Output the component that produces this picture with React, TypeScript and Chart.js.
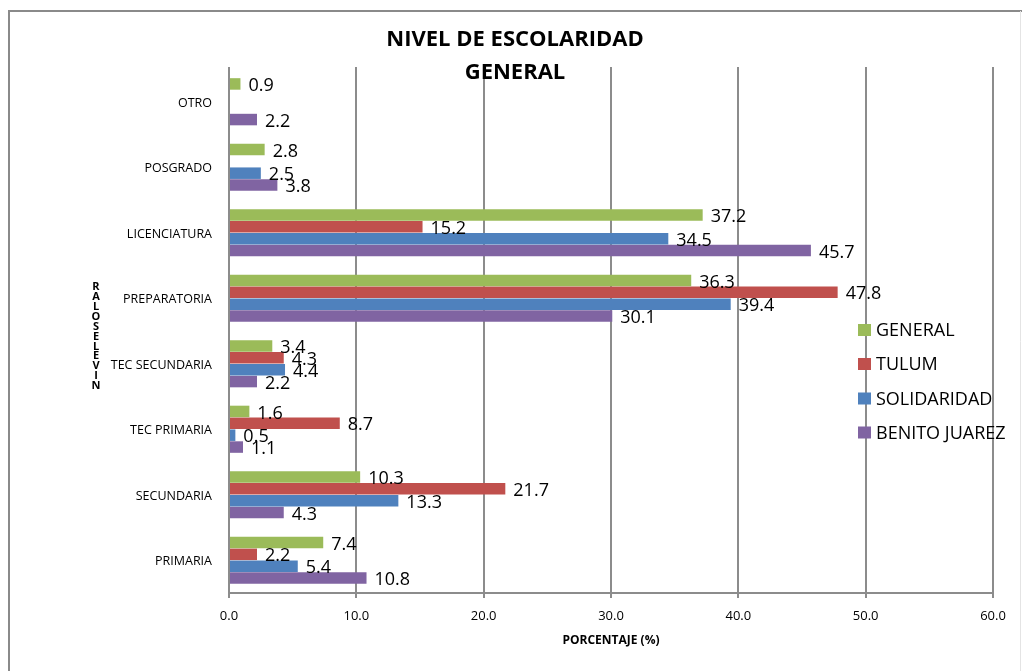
import React, { useEffect, useRef } from "react";
import { Chart, registerables } from "chart.js";

Chart.register(...registerables);

const categories = [
  "OTRO",
  "POSGRADO",
  "LICENCIATURA",
  "PREPARATORIA",
  "TEC SECUNDARIA",
  "TEC PRIMARIA",
  "SECUNDARIA",
  "PRIMARIA",
];

const seriesNames = ["GENERAL", "TULUM", "SOLIDARIDAD", "BENITO JUAREZ"];
const seriesColors = ["#9BBB59", "#C0504D", "#4F81BD", "#8064A2"];

const generalValues = [0.9, 2.8, 37.2, 36.3, 3.4, 1.6, 10.3, 7.4];
const tulumValues = [null, null, 15.2, 47.8, 4.3, 8.7, 21.7, 2.2];
const solidaridadValues = [null, 2.5, 34.5, 39.4, 4.4, 0.5, 13.3, 5.4];
const benitoJuarezValues = [2.2, 3.8, 45.7, 30.1, 2.2, 1.1, 4.3, 10.8];

const xTicks = [0, 10, 20, 30, 40, 50, 60];

const titleLines = ["NIVEL DE ESCOLARIDAD", "GENERAL"];
const xTitle = "PORCENTAJE (%)";
const yTitleLetters = ["R", "A", "L", "O", "S", "E", "L", "E", "V", "I", "N"];

const FONT = "'Open Sans', 'Liberation Sans', sans-serif";

const decorPlugin = {
  id: "decor",
  beforeDraw(chart: any) {
    const ctx = chart.ctx;
    ctx.save();
    ctx.fillStyle = "#ffffff";
    ctx.fillRect(0, 0, chart.width, chart.height);
    // outer frame
    ctx.strokeStyle = "#8a8a8a";
    ctx.lineWidth = 2;
    ctx.beginPath();
    ctx.moveTo(9, 680);
    ctx.lineTo(9, 11);
    ctx.lineTo(1022, 11);
    ctx.stroke();
    ctx.strokeStyle = "#e4e4e4";
    ctx.lineWidth = 1;
    ctx.beginPath();
    ctx.moveTo(1020.5, 11);
    ctx.lineTo(1020.5, 680);
    ctx.stroke();
    ctx.restore();
  },
  beforeDatasetsDraw(chart: any) {
    // extend vertical gridlines slightly above the plot top, as in the reference
    const ctx = chart.ctx;
    const xs = chart.scales.x;
    const top = chart.chartArea.top;
    ctx.save();
    ctx.strokeStyle = "#8c8c8c";
    ctx.lineWidth = 2;
    xTicks.forEach((v) => {
      const px = Math.round(xs.getPixelForValue(v));
      ctx.beginPath();
      ctx.moveTo(px, top - 2);
      ctx.lineTo(px, top);
      ctx.stroke();
    });
    ctx.restore();
  },
  afterDraw(chart: any) {
    const ctx = chart.ctx;
    ctx.save();
    ctx.fillStyle = "#000000";
    // title
    ctx.font = `bold 22px ${FONT}`;
    ctx.textAlign = "center";
    ctx.textBaseline = "middle";
    ctx.fillText(titleLines[0], 515, 40);
    ctx.fillText(titleLines[1], 515, 73);
    // x title
    ctx.font = `bold 12px ${FONT}`;
    ctx.fillText(xTitle, 611, 641);
    // y title stacked letters
    ctx.font = `bold 11px ${FONT}`;
    yTitleLetters.forEach((ch, i) => {
      ctx.fillText(ch, 96, 287 + i * 9.9);
    });
    // legend
    const legendY = [330, 364, 398.5, 432.5];
    ctx.textAlign = "left";
    ctx.font = `18px ${FONT}`;
    chart.data.datasets.forEach((ds: any, i: number) => {
      ctx.fillStyle = ds.backgroundColor;
      ctx.fillRect(858, legendY[i] - 6, 13, 12);
      ctx.fillStyle = "#000000";
      ctx.fillText(ds.label, 876, legendY[i] + 1);
    });
    ctx.restore();
  },
  afterDatasetsDraw(chart: any) {
    const ctx = chart.ctx;
    ctx.save();
    ctx.font = `18px ${FONT}`;
    ctx.fillStyle = "#000000";
    ctx.textAlign = "left";
    ctx.textBaseline = "middle";
    chart.data.datasets.forEach((ds: any, di: number) => {
      const meta = chart.getDatasetMeta(di);
      meta.data.forEach((el: any, i: number) => {
        const v = ds.data[i];
        if (v === null || v === undefined) return;
        ctx.fillText(Number(v).toFixed(1), el.x + 8, el.y + 2);
      });
    });
    ctx.restore();
  },
};

export default function App() {
  const canvasRef = useRef<HTMLCanvasElement | null>(null);

  useEffect(() => {
    document.body.style.margin = "0";
    document.body.style.overflow = "hidden";
    const canvas = canvasRef.current;
    if (!canvas) return;
    const allValues = [generalValues, tulumValues, solidaridadValues, benitoJuarezValues];
    const chart = new Chart(canvas, {
      type: "bar",
      data: {
        labels: categories,
        datasets: seriesNames.map((name, i) => ({
          label: name,
          data: allValues[i] as any,
          backgroundColor: seriesColors[i],
          borderWidth: 0,
          categoryPercentage: 0.725,
          barPercentage: 0.97,
        })),
      },
      options: {
        indexAxis: "y",
        responsive: false,
        animation: false,
        events: [],
        layout: { padding: { left: 0, right: 29, top: 69, bottom: 0 } },
        plugins: {
          legend: { display: false },
          title: { display: false },
          tooltip: { enabled: false },
        },
        scales: {
          x: {
            type: "linear",
            min: 0,
            max: 60,
            afterBuildTicks(scale: any) {
              scale.ticks = xTicks.map((v) => ({ value: v }));
            },
            afterFit(scale: any) {
              scale.height = 78;
            },
            grid: {
              display: true,
              color: "#8c8c8c",
              lineWidth: 2,
              drawTicks: true,
              tickLength: 5,
              tickColor: "#8c8c8c",
            },
            border: { display: true, color: "#8c8c8c", width: 2 },
            ticks: {
              padding: 10,
              color: "#000000",
              font: { family: FONT, size: 13 },
              callback: (v: any) => Number(v).toFixed(1),
            },
          },
          y: {
            type: "category",
            afterFit(scale: any) {
              scale.width = 229;
            },
            grid: { display: false, drawTicks: false, tickLength: 0 },
            border: { display: true, color: "#8c8c8c", width: 2 },
            ticks: {
              padding: 17,
              labelOffset: 1.5,
              color: "#000000",
              font: { family: FONT, size: 12.5 },
            },
          },
        },
      },
      plugins: [decorPlugin],
    });
    return () => chart.destroy();
  }, []);

  return (
    <div style={{ width: 1022, height: 671 }}>
      <canvas ref={canvasRef} width={1022} height={671} style={{ display: "block" }} />
    </div>
  );
}
